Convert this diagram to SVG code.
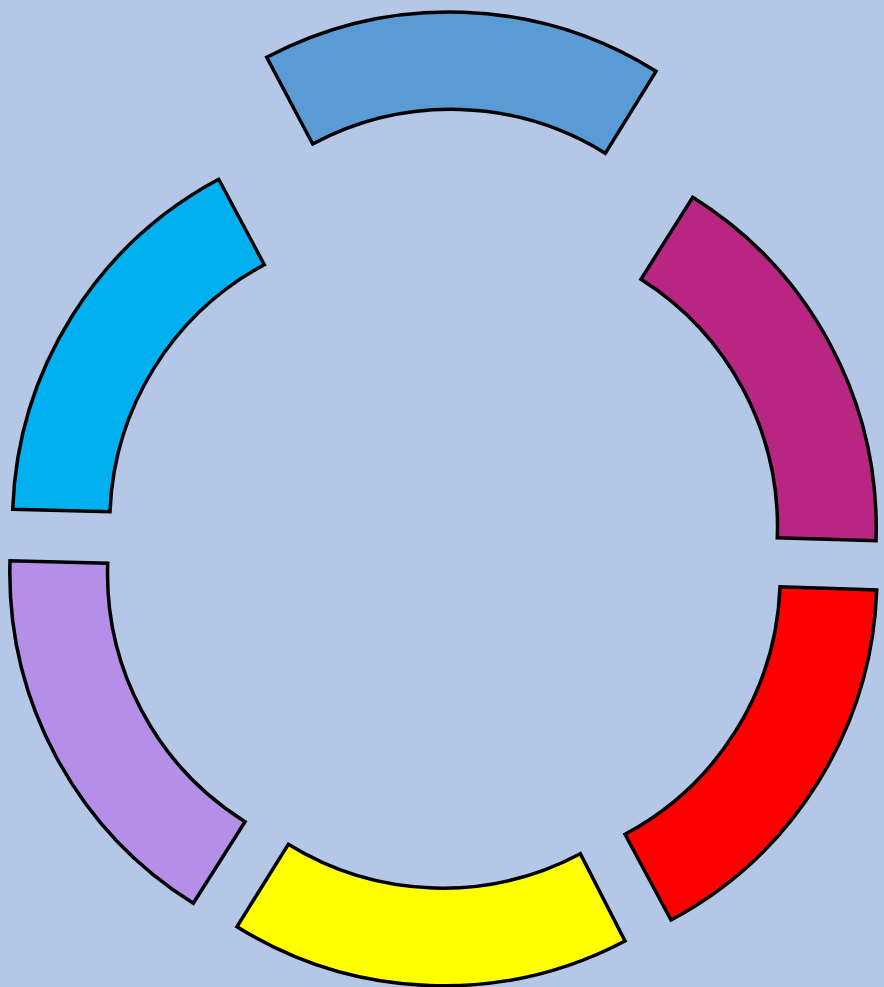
<svg xmlns="http://www.w3.org/2000/svg" width="884" height="987" viewBox="0 0 884 987">
  <style>
    .seg { stroke: #000000; stroke-width: 3.5; stroke-linejoin: miter; }
  </style>
  <rect x="0" y="0" width="884" height="987" fill="#B4C7E7"/>
  <g id="seg-top">
    <path class="seg" fill="#5B9BD5" d="M266.7,57.3 A390,390 0 0 1 656,71.3 L605.3,153.3 A293,293 0 0 0 312.7,144 Z"/>
  </g>
  <g id="seg-upper-right">
    <path class="seg" fill="#B82583" d="M692.7,197.3 A390,390 0 0 1 876,540.7 L777.3,537.7 A293,293 0 0 0 641,279.3 Z"/>
  </g>
  <g id="seg-lower-right">
    <path class="seg" fill="#FF0000" d="M876.7,590 A390,390 0 0 1 671,920 L625,834.3 A293,293 0 0 0 780,586.7 Z"/>
  </g>
  <g id="seg-bottom">
    <path class="seg" fill="#FFFF00" d="M625,941 A390,390 0 0 1 237,926.7 L288.3,844.3 A293,293 0 0 0 580.3,853.7 Z"/>
  </g>
  <g id="seg-lower-left">
    <path class="seg" fill="#B58FE7" d="M193.3,903.3 A390,390 0 0 1 10,560.7 L107.7,563.3 A293,293 0 0 0 245,821.7 Z"/>
  </g>
  <g id="seg-upper-left">
    <path class="seg" fill="#00B0F0" d="M12.7,509.3 A390,390 0 0 1 218.7,179.3 L264.3,264.7 A293,293 0 0 0 110,511.7 Z"/>
  </g>
  <g id="connectors"/>
</svg>
